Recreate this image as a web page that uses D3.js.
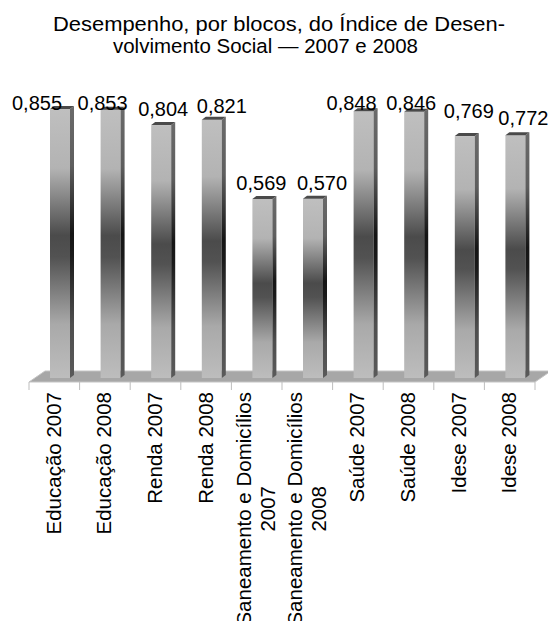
<!DOCTYPE html>
<html>
<head>
<meta charset="utf-8">
<script src="https://cdn.jsdelivr.net/npm/d3@7"></script>
<style>
  html, body { margin: 0; padding: 0; background: #fff; }
  svg text { font-family: "Liberation Sans", Arial, sans-serif; fill: #000; }
</style>
</head>
<body>
<svg id="chart" width="548" height="621"></svg>
<script>
// Índice de Desenvolvimento Social, by block, 2007 and 2008
const categories = [
  ["Educação 2007"],
  ["Educação 2008"],
  ["Renda 2007"],
  ["Renda 2008"],
  ["Saneamento e Domicílios", "2007"],
  ["Saneamento e Domicílios", "2008"],
  ["Saúde 2007"],
  ["Saúde 2008"],
  ["Idese 2007"],
  ["Idese 2008"]
];
const values = [0.855, 0.853, 0.804, 0.821, 0.569, 0.570, 0.848, 0.846, 0.769, 0.772];
const valueLabels = ["0,855", "0,853", "0,804", "0,821", "0,569", "0,570", "0,848", "0,846", "0,769", "0,772"];
const titleLines = ["Desempenho, por blocos, do Índice de Desen-", "volvimento Social — 2007 e 2008"];

// label placement tweaks (px): horizontal and vertical shift from each bar's top centre
const labelShiftX = [-23, -8, 2, 10, -1, 9, -12, -3, 4, 8];
const labelShiftY = [1, 0, -9, -7, -9, -9, -1, -2, -18, -10];

const svg = d3.select("#chart");

// layout
const floorFront = 382, floorBack = 371, floorDepthX = 16;
const baseY = 378;
const barW = 20, barOffset = 21, sideDX = 4, sideDY = 3;

const x = d3.scaleBand().domain(d3.range(categories.length)).range([29, 535]).padding(0);
const y = d3.scaleLinear().domain([0, 1]).range([baseY, baseY - 314.6]);

const defs = svg.append("defs");
const gFront = defs.append("linearGradient").attr("id", "gFront")
  .attr("x1", 0).attr("y1", 0).attr("x2", 0).attr("y2", 1);
[[0, "#bfbfbf"], [0.22, "#b3b3b3"], [0.47, "#4b4b4b"], [0.55, "#525252"], [0.8, "#a9a9a9"], [1, "#bdbdbd"]]
  .forEach(([o, c]) => gFront.append("stop").attr("offset", o).attr("stop-color", c));
const gSide = defs.append("linearGradient").attr("id", "gSide")
  .attr("x1", 0).attr("y1", 0).attr("x2", 0).attr("y2", 1);
[[0, "#6a6a6a"], [0.22, "#5e5e5e"], [0.47, "#151515"], [0.55, "#1a1a1a"], [0.8, "#4e4e4e"], [1, "#5a5a5a"]]
  .forEach(([o, c]) => gSide.append("stop").attr("offset", o).attr("stop-color", c));

// title, two centred lines
const titleCentre = [279, 265.5], titleWidth = [452, 305];
svg.append("g").selectAll("text").data(titleLines).join("text")
  .attr("x", (d, i) => titleCentre[i])
  .attr("y", (d, i) => 30.5 + i * 22)
  .attr("text-anchor", "middle")
  .attr("font-size", 20.5)
  .attr("textLength", (d, i) => titleWidth[i])
  .attr("lengthAdjust", "spacingAndGlyphs")
  .text(d => d);

// floor
const [x0, x1] = x.range();
svg.append("polygon")
  .attr("points", [[x0, floorFront], [x1, floorFront], [x1 + floorDepthX, floorBack], [x0 + floorDepthX, floorBack]].join(" "))
  .attr("fill", "#a7a7a7")
  .attr("stroke", "#c4c4c4")
  .attr("stroke-width", 1);

// category ticks
svg.append("g").selectAll("line").data(d3.range(categories.length + 1)).join("line")
  .attr("x1", i => x0 + i * x.step()).attr("x2", i => x0 + i * x.step())
  .attr("y1", floorFront).attr("y2", floorFront + 8)
  .attr("stroke", "#bdbdbd").attr("stroke-width", 1);

// bars
const bars = svg.append("g").selectAll("g").data(values).join("g");
bars.append("rect")
  .attr("x", (d, i) => x(i) + barOffset)
  .attr("y", d => y(d))
  .attr("width", barW)
  .attr("height", d => baseY - y(d))
  .attr("fill", "url(#gFront)");
bars.append("polygon")
  .attr("points", (d, i) => {
    const bx = x(i) + barOffset + barW, t = y(d);
    return [[bx, t], [bx + sideDX, t - sideDY], [bx + sideDX, baseY - sideDY], [bx, baseY]].join(" ");
  })
  .attr("fill", "url(#gSide)");
bars.append("polygon")
  .attr("points", (d, i) => {
    const bx = x(i) + barOffset, t = y(d);
    return [[bx, t], [bx + barW, t], [bx + barW + sideDX, t - sideDY], [bx + sideDX, t - sideDY]].join(" ");
  })
  .attr("fill", "#4a4a4a");

// value labels
svg.append("g").selectAll("text").data(values).join("text")
  .attr("x", (d, i) => x(i) + barOffset + barW / 2 + labelShiftX[i])
  .attr("y", (d, i) => y(d) + labelShiftY[i])
  .attr("text-anchor", "middle")
  .attr("font-size", 20)
  .text((d, i) => valueLabels[i]);

// category labels, rotated, block aligned to the floor edge
const labelTop = 392, lineGap = 24, catFont = 20.5;
const cat = svg.append("g").selectAll("g").data(categories).join("g");
cat.each(function (lines, i) {
  const g = d3.select(this);
  const cx = x(i) + x.bandwidth() / 2;
  const texts = g.selectAll("text").data(lines).join("text")
    .attr("font-size", catFont)
    .attr("text-anchor", "middle")
    .text(d => d);
  const maxLen = d3.max(texts.nodes(), n => n.getComputedTextLength());
  const cy = labelTop + maxLen / 2;
  const n = lines.length;
  texts.attr("transform", (d, k) => {
    const bx = cx + 6.5 + (k - (n - 1) / 2) * lineGap;
    return `translate(${bx},${cy}) rotate(-90)`;
  });
});
</script>
</body>
</html>
